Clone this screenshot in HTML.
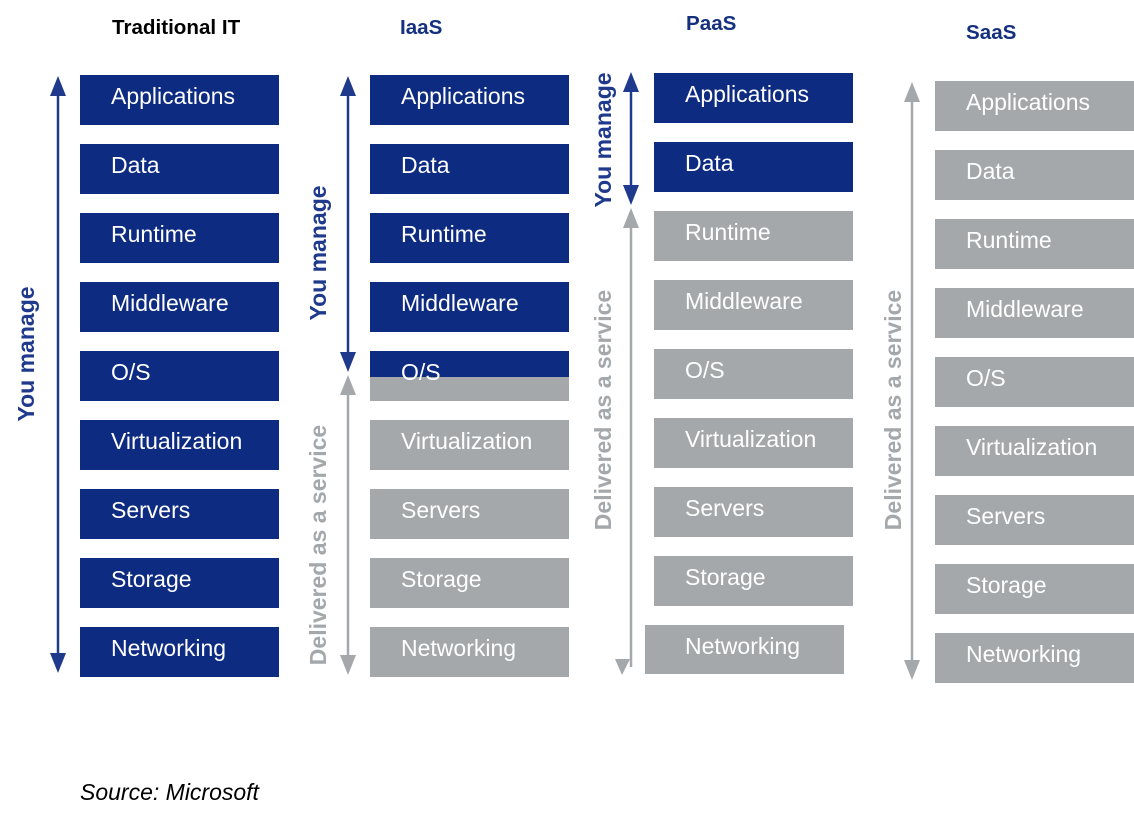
<!DOCTYPE html>
<html><head><meta charset="utf-8"><style>
html,body{margin:0;padding:0;background:#fff;width:1134px;height:817px;overflow:hidden}
text{font-family:"Liberation Sans",Arial,sans-serif}
.l{fill:#fff;font-size:23px}
.h{font-size:20.6px;font-weight:bold}
.v{font-size:23px;font-weight:bold}
</style></head><body>
<svg width="1134" height="817" xmlns="http://www.w3.org/2000/svg">
<text class="h" x="112" y="34" fill="#000">Traditional IT</text>
<text class="h" x="400" y="34" fill="#14307f">IaaS</text>
<text class="h" x="686" y="30" fill="#14307f">PaaS</text>
<text class="h" x="966" y="39" fill="#14307f">SaaS</text>

<g fill="#0e2b82">
<rect x="80" y="75" width="199" height="50"/><rect x="80" y="144" width="199" height="50"/><rect x="80" y="213" width="199" height="50"/><rect x="80" y="282" width="199" height="50"/><rect x="80" y="351" width="199" height="50"/><rect x="80" y="420" width="199" height="50"/><rect x="80" y="489" width="199" height="50"/><rect x="80" y="558" width="199" height="50"/><rect x="80" y="627" width="199" height="50"/>
</g>
<g class="l">
<text x="111" y="104">Applications</text><text x="111" y="173">Data</text><text x="111" y="242">Runtime</text><text x="111" y="311">Middleware</text><text x="111" y="380">O/S</text><text x="111" y="449">Virtualization</text><text x="111" y="518">Servers</text><text x="111" y="587">Storage</text><text x="111" y="656">Networking</text>
</g>

<g fill="#0e2b82">
<rect x="370" y="75" width="199" height="50"/><rect x="370" y="144" width="199" height="50"/><rect x="370" y="213" width="199" height="50"/><rect x="370" y="282" width="199" height="50"/><rect x="370" y="351" width="199" height="26"/>
</g>
<g fill="#a4a8ab">
<rect x="370" y="377" width="199" height="24"/><rect x="370" y="420" width="199" height="50"/><rect x="370" y="489" width="199" height="50"/><rect x="370" y="558" width="199" height="50"/><rect x="370" y="627" width="199" height="50"/>
</g>
<g class="l">
<text x="401" y="104">Applications</text><text x="401" y="173">Data</text><text x="401" y="242">Runtime</text><text x="401" y="311">Middleware</text><text x="401" y="380">O/S</text><text x="401" y="449">Virtualization</text><text x="401" y="518">Servers</text><text x="401" y="587">Storage</text><text x="401" y="656">Networking</text>
</g>

<g fill="#0e2b82">
<rect x="654" y="73" width="199" height="50"/><rect x="654" y="142" width="199" height="50"/>
</g>
<g fill="#a4a8ab">
<rect x="654" y="211" width="199" height="50"/><rect x="654" y="280" width="199" height="50"/><rect x="654" y="349" width="199" height="50"/><rect x="654" y="418" width="199" height="50"/><rect x="654" y="487" width="199" height="50"/><rect x="654" y="556" width="199" height="50"/><rect x="645" y="625" width="199" height="49"/>
</g>
<g class="l">
<text x="685" y="102">Applications</text><text x="685" y="171">Data</text><text x="685" y="240">Runtime</text><text x="685" y="309">Middleware</text><text x="685" y="378">O/S</text><text x="685" y="447">Virtualization</text><text x="685" y="516">Servers</text><text x="685" y="585">Storage</text><text x="685" y="654">Networking</text>
</g>

<g fill="#a4a8ab">
<rect x="935" y="81" width="199" height="50"/><rect x="935" y="150" width="199" height="50"/><rect x="935" y="219" width="199" height="50"/><rect x="935" y="288" width="199" height="50"/><rect x="935" y="357" width="199" height="50"/><rect x="935" y="426" width="199" height="50"/><rect x="935" y="495" width="199" height="50"/><rect x="935" y="564" width="199" height="50"/><rect x="935" y="633" width="199" height="50"/>
</g>
<g class="l">
<text x="966" y="110">Applications</text><text x="966" y="179">Data</text><text x="966" y="248">Runtime</text><text x="966" y="317">Middleware</text><text x="966" y="386">O/S</text><text x="966" y="455">Virtualization</text><text x="966" y="524">Servers</text><text x="966" y="593">Storage</text><text x="966" y="662">Networking</text>
</g>

<g stroke-width="2.5">
<line x1="58" y1="90" x2="58" y2="660" stroke="#1f3a8c"/>
<line x1="348" y1="90" x2="348" y2="358" stroke="#1f3a8c"/>
<line x1="348" y1="390" x2="348" y2="660" stroke="#a4a8ab"/>
<line x1="631" y1="88" x2="631" y2="190" stroke="#1f3a8c"/>
<line x1="631" y1="224" x2="631" y2="667" stroke="#a4a8ab"/>
<line x1="912" y1="98" x2="912" y2="665" stroke="#a4a8ab"/>
</g>
<g fill="#1f3a8c">
<polygon points="58,76 50,96 66,96"/><polygon points="58,673 50,653 66,653"/>
<polygon points="348,76 340,96 356,96"/><polygon points="348,372 340,352 356,352"/>
<polygon points="631,72 623,92 639,92"/><polygon points="631,205 623,185 639,185"/>
</g>
<g fill="#a4a8ab">
<polygon points="348,375 340,395 356,395"/><polygon points="348,675 340,655 356,655"/>
<polygon points="631,208 623,228 639,228"/><polygon points="622,675 615,659 630,659"/>
<polygon points="912,82 904,102 920,102"/><polygon points="912,680 904,660 920,660"/>
</g>

<text class="v" fill="#1f3a8c" text-anchor="middle" transform="translate(34,354) rotate(-90)">You manage</text>
<text class="v" fill="#1f3a8c" text-anchor="middle" transform="translate(326,253) rotate(-90)">You manage</text>
<text class="v" fill="#a4a8ab" text-anchor="middle" transform="translate(326,545) rotate(-90)">Delivered as a service</text>
<text class="v" fill="#1f3a8c" text-anchor="middle" transform="translate(611,140) rotate(-90)">You manage</text>
<text class="v" fill="#a4a8ab" text-anchor="middle" transform="translate(611,410) rotate(-90)">Delivered as a service</text>
<text class="v" fill="#a4a8ab" text-anchor="middle" transform="translate(901,410) rotate(-90)">Delivered as a service</text>

<text x="80" y="800" font-size="23" font-style="italic" fill="#000">Source: Microsoft</text>
</svg>
</body></html>
